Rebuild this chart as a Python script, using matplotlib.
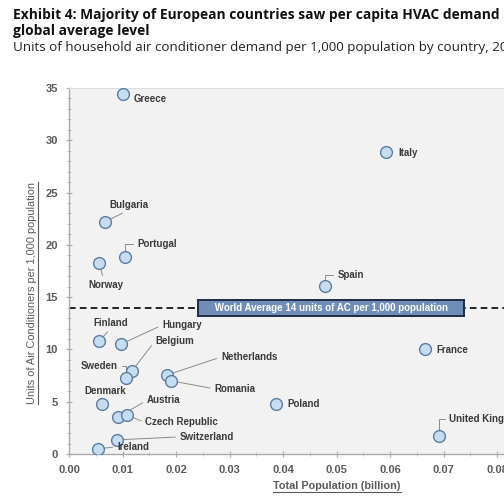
import matplotlib
matplotlib.use("Agg")
import matplotlib.pyplot as plt
from matplotlib.lines import Line2D
from matplotlib.ticker import MultipleLocator

# ---- data ----
countries = ["Greece", "Italy", "Bulgaria", "Portugal", "Norway", "Spain",
             "Finland", "Hungary", "Belgium", "Sweden", "Netherlands", "Romania",
             "France", "Denmark", "Austria", "Czech Republic", "Poland",
             "United Kingdom", "Switzerland", "Ireland"]
population_bn = [0.0101, 0.0593, 0.0067, 0.0105, 0.0056, 0.0479,
                 0.0057, 0.0097, 0.0118, 0.0106, 0.0183, 0.0191,
                 0.0665, 0.0061, 0.0091, 0.0109, 0.0387,
                 0.0692, 0.0089, 0.0054]
ac_per_1000 = [34.4, 28.9, 22.2, 18.8, 18.3, 16.1,
               10.8, 10.5, 7.95, 7.3, 7.55, 7.0,
               10.0, 4.8, 3.5, 3.7, 4.8,
               1.7, 1.35, 0.5]
world_avg = 14
world_avg_label = "World Average 14 units of AC per 1,000 population"
x_ticks = [0.00, 0.01, 0.02, 0.03, 0.04, 0.05, 0.06, 0.07, 0.08, 0.09]
y_ticks = [0, 5, 10, 15, 20, 25, 30, 35]

# ---- label layout (pixel offsets, alignment, leader style) ----
# (dx, dy, ha, relpos or None, connection)
layout = {
    "Greece": (11, -5, "left", None, None),
    "Italy": (12, -1, "left", None, None),
    "Bulgaria": (5, 17, "left", (0.5, 0.0), None),
    "Portugal": (12, 13, "left", (0.0, 0.5), "angle,angleA=180,angleB=90,rad=0"),
    "Norway": (-11, -22, "left", (0.45, 1.0), None),
    "Spain": (12, 11, "left", (0.0, 0.5), "angle,angleA=180,angleB=90,rad=0"),
    "Finland": (-6, 18, "left", (0.5, 0.0), None),
    "Hungary": (41, 19, "left", (0.0, 0.5), None),
    "Belgium": (23, 30, "left", (0.0, 0.5), None),
    "Sweden": (-8, 12, "right", (1.0, 0.5), "angle,angleA=0,angleB=90,rad=0"),
    "Netherlands": (54, 18, "left", (0.0, 0.5), None),
    "Romania": (43, -8, "left", (0.0, 0.5), None),
    "France": (12, -1, "left", None, None),
    "Denmark": (-17, 13, "left", None, None),
    "Austria": (29, 17, "left", (0.0, 0.5), None),
    "Czech Republic": (18, -7, "left", (0.0, 0.5), None),
    "Poland": (11, 0, "left", None, None),
    "United Kingdom": (10, 17, "left", (0.0, 0.5), "angle,angleA=180,angleB=90,rad=0"),
    "Switzerland": (63, 3, "left", (0.0, 0.5), None),
    "Ireland": (19, 2, "left", (0.0, 0.5), None),
}

W, H, DPI = 504, 504, 100
fig = plt.figure(figsize=(W / DPI, H / DPI), dpi=DPI)
fig.patch.set_facecolor("white")

ax = fig.add_axes([69 / W, 50 / H, 535 / W, 366 / H])
ax.set_facecolor("#f2f2f2")
ax.set_xlim(0, 0.10)
ax.set_ylim(0, 35)

lab_font = "Liberation Sans"
txt_col = "#3a3a3a"
gray = "#5a5a5a"

ax.axhline(world_avg, color="black", lw=1.2, dashes=(4, 2.5), zorder=2)
pad_sp = " " * 5
ax.text(0.049, world_avg, pad_sp + world_avg_label + pad_sp, ha="center", va="center",
        color="white", fontsize=7, fontweight="bold", family=lab_font, zorder=6,
        bbox=dict(boxstyle="square,pad=0.3", fc="#6f8db8", ec="#1e2b45", lw=1.4))

ax.scatter(population_bn, ac_per_1000, s=72, facecolor="#c6dcf1",
           edgecolor="#5a7ca3", linewidth=1.0, zorder=4)

for name, x, y in zip(countries, population_bn, ac_per_1000):
    dx, dy, ha, relpos, conn = layout[name]
    if relpos is not None:
        ap = dict(arrowstyle="-", color="#8a8a8a", lw=0.7, relpos=relpos,
                  shrinkA=1, shrinkB=4.5)
        if conn:
            ap["connectionstyle"] = conn
        # leader line drawn beneath the markers
        ax.annotate(name, (x, y), xytext=(dx, dy), textcoords="offset pixels",
                    ha=ha, va="center", fontsize=7, fontweight="bold",
                    family=lab_font, color="none", zorder=3, arrowprops=ap)
    ax.annotate(name, (x, y), xytext=(dx, dy), textcoords="offset pixels",
                ha=ha, va="center", fontsize=7, fontweight="bold",
                family=lab_font, color=txt_col, zorder=5)

ax.set_xticks(x_ticks)
ax.set_xticklabels([f"{v:.2f}" for v in x_ticks])
ax.set_yticks(y_ticks)
ax.yaxis.set_minor_locator(MultipleLocator(1))
ax.xaxis.set_minor_locator(MultipleLocator(0.005))
for lbl in ax.get_xticklabels() + ax.get_yticklabels():
    lbl.set_family(lab_font)
    lbl.set_fontweight("bold")
    lbl.set_fontsize(8)
    lbl.set_color(gray)
ax.tick_params(which="major", direction="inout", length=4, color="#aaaaaa")
ax.tick_params(which="minor", direction="inout", length=2.5, color="#bbbbbb")
ax.tick_params(axis="y", pad=6)
ax.tick_params(axis="x", pad=6)
for s in ["left", "bottom"]:
    ax.spines[s].set_color("#aaaaaa")
    ax.spines[s].set_linewidth(1.0)
ax.spines["top"].set_color("#dddddd")
ax.spines["right"].set_visible(False)

# titles
tfont = "Open Sans"
fig.text(13 / W, 1 - 19 / H, "Exhibit 4: Majority of European countries saw per capita HVAC demand m",
         fontsize=9.95, fontweight="bold", family=tfont, color="#111111", va="baseline")
fig.text(13 / W, 1 - 35 / H, "global average level",
         fontsize=9.95, fontweight="bold", family=tfont, color="#111111", va="baseline")
fig.text(13 / W, 1 - 51 / H, "Units of household air conditioner demand per 1,000 population by country, 2024",
         fontsize=9.6, family=tfont, color="#222222", va="baseline")

ylab = fig.text(32 / W, 1 - 293 / H, "Units of Air Conditioners per 1,000 population",
                rotation=90, ha="center", va="center", fontsize=7.9,
                family=lab_font, color=gray)
xlab = fig.text(337 / W, 1 - 486 / H, "Total Population (billion)",
                ha="center", va="center", fontsize=7.8, fontweight="bold",
                family=lab_font, color=gray)

fig.canvas.draw()
r = fig.canvas.get_renderer()
inv = fig.transFigure.inverted()
bb = xlab.get_window_extent(r)
(x0, y0), (x1, _) = inv.transform([(bb.x0, bb.y0 - 0.5), (bb.x1, bb.y0)])
fig.add_artist(Line2D([x0, x1], [y0, y0], color=gray, lw=0.8, transform=fig.transFigure))
bb = ylab.get_window_extent(r)
(x0, y0), (_, y1) = inv.transform([(bb.x1 + 0.5, bb.y0), (bb.x1, bb.y1)])
fig.add_artist(Line2D([x0, x0], [y0, y1], color=gray, lw=0.8, transform=fig.transFigure))

fig.savefig("out.png", dpi=DPI)
